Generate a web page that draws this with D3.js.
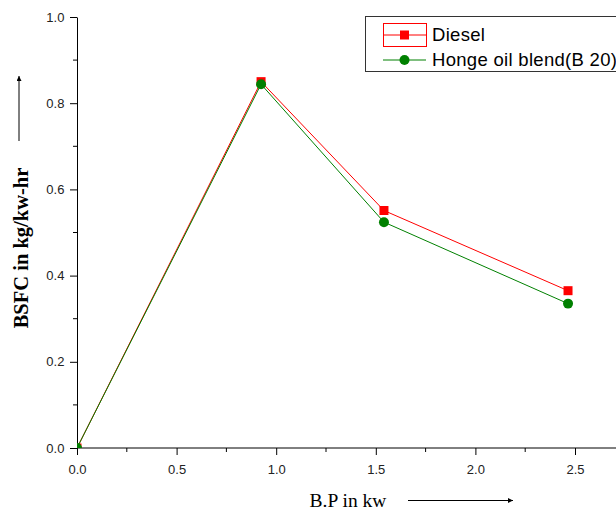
<!DOCTYPE html>
<html>
<head>
<meta charset="utf-8">
<script src="https://cdn.jsdelivr.net/npm/d3@7"></script>
<style>
    body { margin: 0; background: #fff; }
    svg { display: block; }
</style>
</head>
<body>
<script>
const bpValues = [0, 0.924, 1.541, 2.465];
const dieselValues = [0, 0.85, 0.551, 0.365];
const hongeValues = [0, 0.844, 0.524, 0.335];
const seriesNames = ['Diesel', 'Honge oil blend(B 20)'];
const xTicks = [0, 0.5, 1.0, 1.5, 2.0, 2.5];
const yTicks = [0, 0.2, 0.4, 0.6, 0.8, 1.0];

drawChart();

function drawChart()
{
    const width = 616;
    const height = 512;
    const left = 77;
    const top = 17;
    const bottom = 448;

    const svg = d3.select('body')
        .append('svg')
        .attr('width', width)
        .attr('height', height);

    const x = d3.scaleLinear().domain([0, 2.5]).range([left, 575]);
    const y = d3.scaleLinear().domain([0, 1.0]).range([bottom, top]);
    const xMax = x.invert(width);

    const tickFont = '"Liberation Sans", Arial, sans-serif';
    const serif = '"Liberation Serif", "Times New Roman", serif';

    const defs = svg.append('defs');
    defs.append('clipPath')
        .attr('id', 'plot-clip')
        .append('rect')
        .attr('x', left).attr('y', 0)
        .attr('width', width - left).attr('height', bottom);

    // x axis with minor ticks
    const xAxis = svg.append('g')
        .attr('transform', `translate(0, ${bottom})`)
        .call(d3.axisBottom(x).tickValues(xTicks).tickFormat(d3.format('.1f'))
            .tickSize(7).tickSizeOuter(0));
    xAxis.select('.domain').attr('d', `M${left},0H${width}`);
    xAxis.selectAll('text').attr('dy', '1.25em');

    const xMinor = d3.range(0.25, xMax, 0.5);
    svg.append('g').selectAll('line')
        .data(xMinor)
        .enter()
        .append('line')
        .attr('x1', d => x(d)).attr('x2', d => x(d))
        .attr('y1', bottom).attr('y2', bottom + 4)
        .attr('stroke', '#000');

    // y axis with minor ticks
    const yAxis = svg.append('g')
        .attr('transform', `translate(${left}, 0)`)
        .call(d3.axisLeft(y).tickValues(yTicks).tickFormat(d3.format('.1f'))
            .tickSize(7).tickSizeOuter(0));
    yAxis.selectAll('text').attr('dx', '-0.2em');

    const yMinor = d3.range(0.1, 1.0, 0.2);
    svg.append('g').selectAll('line')
        .data(yMinor)
        .enter()
        .append('line')
        .attr('x1', left - 4).attr('x2', left)
        .attr('y1', d => y(d)).attr('y2', d => y(d))
        .attr('stroke', '#000');

    svg.selectAll('.tick text')
        .attr('font-family', tickFont)
        .attr('font-size', 13)
        .attr('fill', '#222');
    svg.selectAll('.domain, .tick line').attr('stroke', '#000');

    // series
    const series = [
        {name: seriesNames[0], values: dieselValues, color: '#ff0000', shape: d3.symbolSquare, size: 81},
        {name: seriesNames[1], values: hongeValues, color: '#008000', shape: d3.symbolCircle, size: 78}
    ];

    const line = d3.line()
        .x((d, i) => x(bpValues[i]))
        .y(d => y(d));

    const plot = svg.append('g').attr('clip-path', 'url(#plot-clip)');

    series.forEach(s =>
    {
        plot.append('path')
            .attr('d', line(s.values))
            .attr('fill', 'none')
            .attr('stroke', s.color)
            .attr('stroke-width', 1);

        plot.append('g').selectAll('path')
            .data(s.values)
            .enter()
            .append('path')
            .attr('d', d3.symbol().type(s.shape).size(s.size))
            .attr('transform', (d, i) => `translate(${x(bpValues[i])}, ${y(d)})`)
            .attr('fill', s.color);
    });

    // legend
    const legend = svg.append('g');
    legend.append('rect')
        .attr('x', 365.5).attr('y', 16.5)
        .attr('width', 270).attr('height', 55)
        .attr('fill', '#fff')
        .attr('stroke', '#333');

    series.forEach((s, i) =>
    {
        const ly = 35 + i * 25;
        legend.append('line')
            .attr('x1', 383).attr('x2', 426)
            .attr('y1', ly).attr('y2', ly)
            .attr('stroke', s.color);
        legend.append('path')
            .attr('d', d3.symbol().type(s.shape).size(s.size))
            .attr('transform', `translate(404.5, ${ly})`)
            .attr('fill', s.color);
        legend.append('text')
            .attr('x', 432).attr('y', ly + 6)
            .attr('font-family', tickFont)
            .attr('font-size', 18.5)
            .attr('letter-spacing', 0.3)
            .attr('fill', '#000')
            .text(s.name);
    });
    legend.append('rect')
        .attr('x', 383.5).attr('y', 23.5)
        .attr('width', 43).attr('height', 23)
        .attr('fill', 'none')
        .attr('stroke', '#ff0000');

    // axis titles with arrows
    defs.append('marker')
        .attr('id', 'arrow')
        .attr('viewBox', '0 0 10 10')
        .attr('refX', 10).attr('refY', 5)
        .attr('markerWidth', 6).attr('markerHeight', 5)
        .attr('orient', 'auto')
        .append('path')
        .attr('d', 'M0,0L10,5L0,10Z')
        .attr('fill', '#000');

    svg.append('text')
        .attr('transform', 'translate(28, 248) rotate(-90)')
        .attr('text-anchor', 'middle')
        .attr('font-family', serif)
        .attr('font-weight', 'bold')
        .attr('font-size', 20.5)
        .text('BSFC in kg/kw-hr');

    svg.append('line')
        .attr('x1', 19).attr('x2', 19)
        .attr('y1', 141).attr('y2', 76)
        .attr('stroke', '#000')
        .attr('marker-end', 'url(#arrow)');

    svg.append('text')
        .attr('x', 348).attr('y', 507)
        .attr('text-anchor', 'middle')
        .attr('font-family', serif)
        .attr('font-size', 19.5)
        .text('B.P in kw');

    svg.append('line')
        .attr('x1', 408).attr('x2', 513)
        .attr('y1', 500.5).attr('y2', 500.5)
        .attr('stroke', '#000')
        .attr('marker-end', 'url(#arrow)');
}
</script>
</body>
</html>
